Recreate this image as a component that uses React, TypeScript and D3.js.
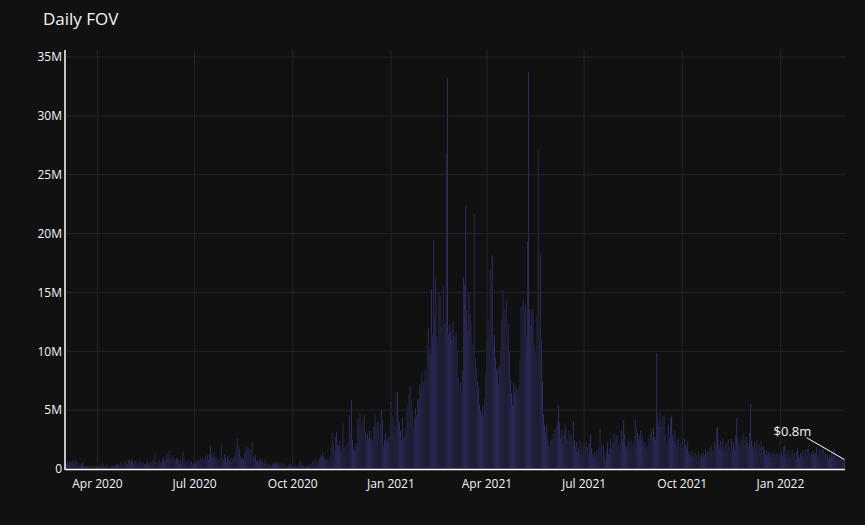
import React from "react";
import * as d3 from "d3";

// Daily FOV in millions, starting 2020-03-03 (one value per day)
const fovMar2020 = [0.5,0.6,0.4,0.7,0.5,0.6,0.8,0.5,0.7,0.8,0.6,0.4,0.3,0.3,0.5,0.6,0.3,0.3,0.2,0.3,0.3,0.2,0.3,0.2,0.3,0.2,0.3,0.2,0.3];
const fovApr2020 = [0.2,0.3,0.2,0.3,0.2,0.5,0.3,0.2,0.3,0.4,0.3,0.2,0.2,0.3,0.3,0.2,0.3,0.4,0.3,0.5,0.4,0.3,0.6,0.4,0.3,0.5,0.7,0.4,0.5,0.8];
const fovMay2020 = [0.8,0.6,0.9,0.7,0.5,0.6,0.8,0.5,0.4,0.6,0.7,0.5,0.4,0.6,0.5,0.4,0.5,0.7,0.5,0.4,0.6,0.5,0.8,0.6,1.4,0.7,0.5,0.6,0.8,0.5,0.6];
const fovJun2020 = [0.9,1.1,0.6,0.8,1.3,1.0,1.6,0.7,0.9,1.2,1.0,0.8,0.6,1.0,0.9,0.7,0.5,0.8,0.6,1.5,1.0,0.7,0.5,0.6,0.8,0.5,0.6,0.7,0.4,0.6];
const fovJul2020 = [0.5,0.6,0.7,0.5,0.8,0.6,0.9,1.0,0.7,0.8,1.1,0.9,1.2,0.8,1.3,2.0,1.2,1.0,1.4,1.1,0.9,1.0,0.8,0.7,0.9,2.1,1.0,0.8,1.3,1.0,0.7];
const fovAug2020 = [1.2,0.9,0.8,1.0,0.7,0.9,1.1,1.4,1.9,2.6,2.0,1.7,1.1,0.9,1.0,0.8,1.3,1.6,1.9,1.5,1.8,1.7,1.2,2.3,1.1,0.9,1.2,0.7,0.8,0.6,0.9];
const fovSep2020 = [0.7,0.9,0.6,0.5,0.8,0.6,0.5,0.4,0.5,0.4,0.3,0.5,0.4,0.6,0.7,0.5,0.6,0.4,0.5,0.3,0.4,0.5,0.3,0.4,0.3,0.2,0.4,0.3,0.5,0.3];
const fovOct2020 = [0.3,0.2,0.4,0.3,0.2,0.3,0.5,0.8,0.6,0.4,0.3,0.2,0.3,0.2,0.3,0.4,0.3,0.2,0.5,0.7,0.6,0.8,0.5,0.7,0.6,0.9,1.2,1.0,1.4,1.1,0.9];
const fovNov2020 = [0.8,0.7,0.9,0.8,1.2,1.8,3.1,2.2,1.6,2.8,3.2,2.1,1.9,2.4,1.6,2.0,3.9,1.8,1.2,2.0,1.5,2.3,4.6,3.0,5.9,2.5,1.7,1.5,2.2,1.9];
const fovDec2020 = [4.3,3.6,4.8,3.8,3.5,4.0,4.7,3.2,2.8,3.0,2.6,3.3,2.7,2.5,2.4,3.6,4.7,3.9,3.8,4.1,3.5,3.9,5.1,4.2,1.9,2.5,3.1,2.4,2.6,2.8,2.2];
const fovJan2021 = [5.8,3.2,4.5,3.0,3.6,6.5,6.6,4.2,4.0,3.3,2.5,4.4,2.6,2.8,3.5,5.2,5.6,6.4,7.1,5.9,5.0,3.6,4.3,5.2,4.6,5.9,6.0,7.2,6.8,8.2,7.4];
const fovFeb2021 = [7.0,8.4,7.8,10.5,12.0,10.2,9.8,15.3,11.4,19.5,12.8,16.3,11.3,10.6,15.0,14.7,12.2,11.0,15.6,12.4,12.0,26.8,33.3,11.5,12.3,11.8,11.0,12.6];
const fovMar2021 = [11.4,10.8,11.7,10.2,7.8,6.9,7.4,6.6,8.4,16.3,15.7,22.4,13.5,11.8,15.0,13.2,12.4,9.5,10.6,21.7,9.5,8.6,7.5,7.0,5.5,5.0,4.6,5.4,4.8,6.0,8.2];
const fovApr2021 = [11.0,12.7,11.4,17.0,15.8,18.2,10.5,11.4,9.5,8.4,8.7,7.2,8.8,10.1,12.7,15.2,13.6,13.0,14.4,11.0,12.4,10.0,7.6,6.5,5.5,7.4,6.6,7.1,6.8,6.1];
const fovMay2021 = [7.0,9.3,13.8,12.5,14.4,13.5,14.0,11.3,19.4,33.8,13.6,12.2,13.5,13.6,10.7,10.0,9.2,13.0,27.2,12.0,18.3,11.0,7.5,4.7,3.8,3.2,3.9,2.6,2.0,1.9,2.5];
const fovJun2021 = [2.4,3.0,3.3,3.1,3.6,4.1,5.5,4.0,2.6,3.4,2.2,2.9,3.9,3.5,2.6,2.0,3.3,2.4,2.9,2.1,4.1,2.5,2.0,2.3,1.5,1.8,2.4,1.3,1.7,2.2];
const fovJul2021 = [2.0,1.6,2.3,1.9,1.4,2.2,2.9,1.8,1.3,1.0,1.5,1.2,1.6,1.1,1.9,3.4,2.0,1.4,2.1,1.2,0.9,1.5,2.3,1.3,1.8,2.6,1.7,2.2,3.0,2.4,2.7];
const fovAug2021 = [2.9,2.1,1.7,2.4,3.3,2.6,4.2,3.0,2.0,1.8,2.6,2.3,1.7,2.5,1.6,2.2,2.8,4.2,3.5,3.1,2.6,2.9,3.3,2.5,2.8,2.0,2.3,1.9,1.6,2.1,2.6];
const fovSep2021 = [3.0,3.4,2.6,3.5,2.8,2.5,9.9,4.3,3.6,4.8,4.2,3.6,4.5,4.6,3.0,2.4,2.2,3.8,2.7,4.4,4.6,3.0,2.4,3.3,2.3,2.0,2.6,1.9,2.2,1.8];
const fovOct2021 = [2.4,1.9,2.6,2.1,1.7,2.3,1.5,1.3,1.2,1.6,1.0,1.3,1.4,1.0,1.2,1.5,0.9,1.1,1.3,1.0,1.4,1.2,1.7,1.3,1.5,1.1,1.8,2.0,1.4,1.6,2.3];
const fovNov2021 = [2.0,3.5,3.6,2.2,1.8,2.4,1.6,2.6,1.9,1.5,2.2,1.7,2.5,2.0,1.4,2.6,1.8,2.3,1.6,2.9,4.4,2.7,2.1,1.8,2.6,2.2,3.0,2.4,2.1,2.8];
const fovDec2021 = [2.3,1.9,3.1,5.6,2.4,2.0,1.7,2.3,1.8,2.5,1.6,2.1,1.9,2.4,1.5,2.0,1.7,1.3,1.6,1.2,1.5,1.1,1.4,1.0,1.3,1.5,1.1,1.2,1.4,1.0,1.3];
const fovJan2022 = [1.2,1.5,1.1,1.9,2.1,1.3,1.0,1.6,1.2,0.9,1.4,1.7,1.1,1.3,0.8,1.5,1.8,1.2,1.0,1.4,1.1,1.6,0.9,1.3,1.7,1.2,1.9,1.4,1.1,1.5,1.3];
const fovFeb2022 = [1.6,1.2,1.4,1.9,1.1,1.3,1.7,1.0,1.5,2.0,1.2,1.4,1.1,1.3,0.9,1.2,1.0,1.5,1.1,1.8,1.6,1.2,0.9,1.0,0.8,1.1,0.9,0.7];
const fovMar2022 = [0.9,0.8];

const startDate = Date.UTC(2020, 2, 3);
const yTickValues = [0, 5, 10, 15, 20, 25, 30, 35];
const titleText = "Daily FOV";
const annotationText = "$0.8m";

const W = 865;
const H = 525;
const M = { left: 66, right: 845, top: 50, bottom: 469 };
const DAY = 86400000;

export default function App() {
  const values = [
    fovMar2020, fovApr2020, fovMay2020, fovJun2020, fovJul2020, fovAug2020,
    fovSep2020, fovOct2020, fovNov2020, fovDec2020, fovJan2021, fovFeb2021,
    fovMar2021, fovApr2021, fovMay2021, fovJun2021, fovJul2021, fovAug2021,
    fovSep2021, fovOct2021, fovNov2021, fovDec2021, fovJan2022, fovFeb2022, fovMar2022,
  ].flat();
  const data = values.map((v, i) => ({ date: new Date(startDate + i * DAY), v }));
  const last = data[data.length - 1];

  const x = d3
    .scaleUtc()
    .domain([new Date(startDate - DAY / 2), new Date(last.date.getTime() + DAY / 2)])
    .range([M.left, M.right]);
  const y = d3.scaleLinear().domain([0, 35.6]).range([M.bottom, M.top]);

  const xTicks = x.ticks(d3.utcMonth.every(3)!);
  const fmt = d3.utcFormat("%b %Y");
  const yFmt = (v: number) => (v === 0 ? "0" : `${v}M`);

  const font = "'Open Sans', verdana, arial, sans-serif";
  const grid = "#20262f";
  const textCol = "#f2f5fa";

  const px = x(last.date);
  const py = y(last.v);

  return (
    <svg
      width={W}
      height={H}
      style={{ position: "absolute", left: 0, top: 0, display: "block" }}
      fontFamily={font}
    >
      <rect x={0} y={0} width={W} height={H} fill="rgb(17,17,17)" />
      {/* grid */}
      {xTicks.map((t) => (
        <line key={"gx" + t.getTime()} x1={x(t)} x2={x(t)} y1={M.top} y2={M.bottom} stroke={grid} strokeWidth={1} />
      ))}
      {yTickValues.map((v) => (
        <line key={"gy" + v} x1={M.left} x2={M.right} y1={y(v)} y2={y(v)} stroke={grid} strokeWidth={1} />
      ))}
      {/* bars */}
      <g fill="rgb(66,66,148)" stroke="rgb(17,17,17)" strokeWidth={0.5}>
        {data.map((d) => {
          const x0 = x(new Date(d.date.getTime() - DAY / 2));
          const x1 = x(new Date(d.date.getTime() + DAY / 2));
          return <rect key={d.date.getTime()} x={x0} width={x1 - x0} y={y(d.v)} height={y(0) - y(d.v)} />;
        })}
      </g>
      {/* axes lines */}
      <line x1={M.left - 1} x2={M.left - 1} y1={M.top} y2={M.bottom + 1} stroke="#ffffff" strokeWidth={1.5} />
      <line x1={M.left - 1} x2={M.right} y1={M.bottom + 0.5} y2={M.bottom + 0.5} stroke="#ffffff" strokeWidth={1.5} />
      {/* y tick labels */}
      {yTickValues.map((v) => (
        <text key={"ty" + v} x={M.left - 4} y={y(v)} dy="0.35em" textAnchor="end" fontSize={12} fill={textCol}>
          {yFmt(v)}
        </text>
      ))}
      {/* x tick labels */}
      {xTicks.map((t) => (
        <text key={"tx" + t.getTime()} x={x(t)} y={M.bottom + 19} textAnchor="middle" fontSize={12} fill={textCol}>
          {fmt(t)}
        </text>
      ))}
      {/* title */}
      <text x={43} y={25} fontSize={17} fill={textCol}>
        {titleText}
      </text>
      {/* annotation */}
      <line x1={px - 38} y1={py - 22} x2={px} y2={py} stroke="#ffffff" strokeWidth={1} />
      <text x={px - 52} y={py - 24} textAnchor="middle" fontSize={13} fill={textCol}>
        {annotationText}
      </text>
    </svg>
  );
}
